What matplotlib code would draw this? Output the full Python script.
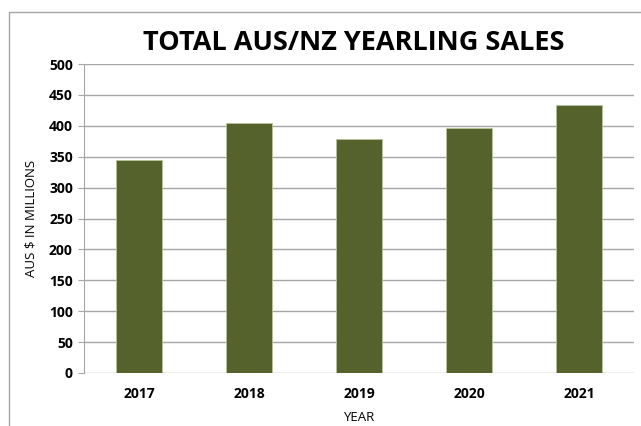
import matplotlib.pyplot as plt
from matplotlib.patches import Rectangle

# sales per year, AUS $ millions
years = ['2017', '2018', '2019', '2020', '2021']
sales = [344, 404, 379, 396, 433]

plt.rcParams['font.family'] = ['Open Sans', 'DejaVu Sans']

fig = plt.figure(figsize=(6.41, 4.26), dpi=100)
ax = fig.add_axes([84 / 641, 1 - 373 / 426, 550 / 641, 309 / 426])

ax.bar(years, sales, width=0.41, color='#56622b', edgecolor='#b8c29a', linewidth=0.6, zorder=3)

ax.set_ylim(0, 500)
ax.set_xlim(-0.5, 4.5)
ax.set_yticks(range(0, 501, 50))
ax.grid(axis='y', color='#a6a6a6', linewidth=1, zorder=0)

for side in ['top', 'right', 'bottom']:
    ax.spines[side].set_visible(False)
ax.spines['left'].set_color('#a6a6a6')
ax.tick_params(axis='y', length=4, color='#a6a6a6', labelsize=10, pad=4)
ax.tick_params(axis='x', length=0, labelsize=10, pad=10)
for lbl in ax.get_xticklabels() + ax.get_yticklabels():
    lbl.set_fontweight('bold')

ax.set_xlabel('YEAR', fontsize=9.5, labelpad=7)
ax.set_ylabel('AUS $ IN MILLIONS', fontsize=9.5, labelpad=8)

fig.text(354 / 641, 1 - 43 / 426, 'TOTAL AUS/NZ YEARLING SALES', fontsize=19.5, fontweight='bold',
         ha='center', va='center')

# outer chart border
fig.patches.append(Rectangle((9 / 641, -0.1), 1.2, 1 - 12 / 426 + 0.1, transform=fig.transFigure,
                             fill=False, edgecolor='#a6a6a6', linewidth=1))

fig.savefig('out.png', dpi=100)
